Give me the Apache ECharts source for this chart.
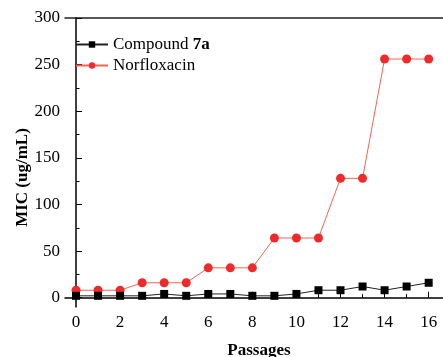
<!DOCTYPE html>
<html>
<head>
<meta charset="utf-8">
<script src="https://cdn.jsdelivr.net/npm/echarts@6/dist/echarts.min.js"></script>
<style>
  html, body { margin: 0; padding: 0; background: #fff; }
  #chart { width: 443px; height: 357px; }
</style>
</head>
<body>
<div id="chart"></div>
<script>
// passages 0..16
var passages = [0, 1, 2, 3, 4, 5, 6, 7, 8, 9, 10, 11, 12, 13, 14, 15, 16];
var compound7a = [2, 2, 2, 2, 4, 2, 4, 4, 2, 2, 4, 8, 8, 12, 8, 12, 16];
var norfloxacin = [8, 8, 8, 16, 16, 16, 32, 32, 32, 64, 64, 64, 128, 128, 256, 256, 256];
var xMajor = [0, 2, 4, 6, 8, 10, 12, 14, 16];
var xMinor = [1, 3, 5, 7, 9, 11, 13, 15];
var yMajor = [0, 50, 100, 150, 200, 250, 300];
var yMinor = [25, 75, 125, 175, 225, 275];

var font = "'Liberation Serif', 'DejaVu Serif', serif";

function pairs(ys) {
  return passages.map(function (x, i) { return [x, ys[i]]; });
}

var chart = echarts.init(document.getElementById('chart'));

var option = {
  animation: false,
  textStyle: { fontFamily: font },
  grid: { left: 65, top: 18, right: 0, bottom: 50, outerBoundsMode: 'none', containLabel: false },
  legend: {
    orient: 'vertical',
    left: 70,
    top: 31,
    itemWidth: 32,
    itemHeight: 8,
    itemGap: 4,
    textStyle: {
      fontFamily: font,
      fontSize: 17,
      color: '#000',
      rich: { b: { fontFamily: font, fontSize: 17, fontWeight: 'bold', color: '#000' } }
    },
    formatter: function (name) {
      return name === 'Compound 7a' ? 'Compound {b|7a}' : name;
    },
    data: ['Compound 7a', 'Norfloxacin']
  },
  xAxis: [
    {
      type: 'value',
      min: -0.5,
      max: 16.65,
      name: 'Passages',
      nameLocation: 'middle',
      nameGap: 35,
      nameMoveOverlap: false,
      nameTextStyle: { fontFamily: font, fontSize: 17, fontWeight: 'bold', color: '#000', verticalAlign: 'top', padding: [0, 0, 0, 10] },
      axisLine: { lineStyle: { color: '#000', width: 1.5 } },
      axisTick: { inside: true, length: 6, customValues: xMajor, lineStyle: { color: '#000', width: 1 } },
      axisLabel: { customValues: xMajor, margin: 7, fontSize: 17, color: '#000', fontFamily: font },
      splitLine: { show: false }
    },
    {
      type: 'value',
      position: 'bottom',
      min: -0.5,
      max: 16.65,
      axisLine: { show: false },
      axisTick: { inside: true, length: 3.5, customValues: xMinor, lineStyle: { color: '#000', width: 1 } },
      axisLabel: { show: false },
      splitLine: { show: false }
    },
    {
      type: 'value',
      position: 'top',
      min: -0.5,
      max: 16.65,
      axisLine: { show: true, lineStyle: { color: '#222', width: 1.5 } },
      axisTick: { show: false },
      axisLabel: { show: false },
      splitLine: { show: false }
    }
  ],
  yAxis: [
    {
      type: 'value',
      min: -10,
      max: 300,
      name: 'MIC (ug/mL)',
      nameLocation: 'middle',
      nameGap: 34,
      nameMoveOverlap: false,
      nameTextStyle: { fontFamily: font, fontSize: 17, fontWeight: 'bold', color: '#000', padding: [0, 30, 0, 0] },
      axisLine: { show: true, lineStyle: { color: '#000', width: 1.5 } },
      axisTick: { inside: true, length: 6, customValues: yMajor, lineStyle: { color: '#000', width: 1 } },
      axisLabel: { customValues: yMajor, margin: 5, fontSize: 17, color: '#000', fontFamily: font },
      splitLine: { show: false }
    },
    {
      type: 'value',
      position: 'left',
      min: -10,
      max: 300,
      axisLine: { show: false },
      axisTick: { inside: true, length: 3.5, customValues: yMinor, lineStyle: { color: '#000', width: 1 } },
      axisLabel: { show: false },
      splitLine: { show: false }
    }
  ],
  series: [
    {
      name: 'Compound 7a',
      type: 'line',
      data: pairs(compound7a),
      symbol: 'rect',
      symbolSize: 8,
      itemStyle: { color: '#000' },
      lineStyle: { color: '#222', width: 1 },
      z: 3
    },
    {
      name: 'Norfloxacin',
      type: 'line',
      data: pairs(norfloxacin),
      symbol: 'circle',
      symbolSize: 9,
      itemStyle: { color: '#ee2a2a' },
      lineStyle: { color: '#f26552', width: 1 },
      z: 2
    }
  ]
};

chart.setOption(option);
</script>
</body>
</html>
